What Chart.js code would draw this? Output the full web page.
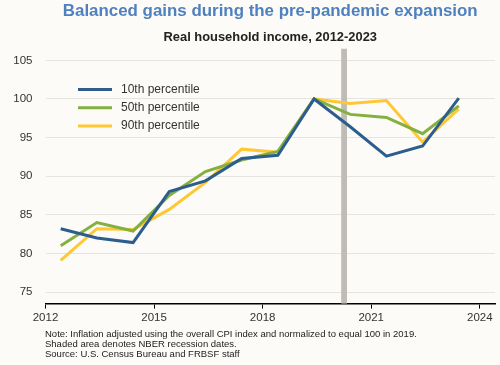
<!DOCTYPE html>
<html>
<head>
<meta charset="utf-8">
<script src="https://cdn.jsdelivr.net/npm/chart.js@4.4.1/dist/chart.umd.min.js"></script>
<style>
  html, body { margin: 0; padding: 0; background: #FCFBF8; }
  #wrap { width: 500px; height: 365px; }
</style>
</head>
<body>
<div id="wrap"><canvas id="incomeChart" width="500" height="365"></canvas></div>
<script>
// Real household income index (2019 = 100)
const years = [2012, 2013, 2014, 2015, 2016, 2017, 2018, 2019, 2020, 2021, 2022, 2023];
const p10 = [83.2, 82.0, 81.4, 88.0, 89.4, 92.3, 92.7, 100, 96.4, 92.6, 93.9, 100.1];
const p50 = [81.0, 84.0, 82.9, 87.5, 90.6, 92.1, 93.2, 100, 98.0, 97.6, 95.5, 99.1];
const p90 = [79.1, 83.2, 83.1, 85.7, 89.2, 93.5, 93.1, 100, 99.4, 99.8, 94.4, 98.7];
const seriesLabels = ['10th percentile', '50th percentile', '90th percentile'];
const xTicks = [2012, 2015, 2018, 2021, 2024];
const yTicks = [75, 80, 85, 90, 95, 100, 105];
const recession = [2020.17, 2020.33];  // NBER recession (COVID)
const notes = [
    'Note: Inflation adjusted using the overall CPI index and normalized to equal 100 in 2019.',
    'Shaded area denotes NBER recession dates.',
    'Source: U.S. Census Bureau and FRBSF staff'
];

const MIDYEAR = 0.42; // annual values plotted mid-year
const colors = ['#2C5D8C', '#84B03F', '#FFC733'];
const FONT = "'Liberation Sans', Arial, sans-serif";

function toPoints(vals) {
    return vals.map((v, i) => ({ x: years[i] + MIDYEAR, y: v }));
}

const datasets = [p10, p50, p90].map((vals, i) => ({
    label: seriesLabels[i],
    data: toPoints(vals),
    borderColor: colors[i],
    backgroundColor: colors[i],
    borderWidth: 3,
    pointRadius: 0,
    tension: 0,
    fill: false
}));

// shaded recession bar, behind the lines
const recessionPlugin = {
    id: 'recession',
    beforeDatasetsDraw(chart) {
        const { ctx, chartArea, scales } = chart;
        const x0 = scales.x.getPixelForValue(recession[0]);
        const x1 = scales.x.getPixelForValue(recession[1]);
        ctx.save();
        ctx.fillStyle = '#BFBCB7';
        ctx.fillRect(x0, chartArea.top, x1 - x0, chartArea.bottom - chartArea.top);
        ctx.restore();
    }
};

// legend inside plot + notes under the axis
const extrasPlugin = {
    id: 'extras',
    afterDraw(chart) {
        const ctx = chart.ctx;
        ctx.save();
        ctx.textBaseline = 'middle';
        chart.data.datasets.forEach((ds, i) => {
            const y = 89.5 + i * 18.3;
            ctx.strokeStyle = ds.borderColor;
            ctx.lineWidth = 3;
            ctx.beginPath();
            ctx.moveTo(78, y);
            ctx.lineTo(112, y);
            ctx.stroke();
            ctx.fillStyle = '#333';
            ctx.font = '12px ' + FONT;
            ctx.fillText(ds.label, 121, y);
        });
        ctx.font = '9.5px ' + FONT;
        ctx.fillStyle = '#222';
        notes.forEach((t, i) => {
            ctx.fillText(t, 45, 334 + i * 10.2);
        });
        ctx.restore();
    }
};

const canvas = document.getElementById('incomeChart');
if (canvas) {
    const ctx = canvas.getContext('2d');
    new Chart(ctx, {
        type: 'line',
        data: { datasets: datasets },
        options: {
            responsive: false,
            animation: false,
            layout: { padding: { left: 0, right: 5, top: 0, bottom: 0 } },
            scales: {
                x: {
                    type: 'linear',
                    min: 2012,
                    max: 2024.42,
                    afterFit: function(scale) { scale.height = 61.4; },
                    afterBuildTicks: function(scale) {
                        scale.ticks = xTicks.map(v => ({ value: v }));
                    },
                    ticks: {
                        padding: 2,
                        color: '#333',
                        font: { family: FONT, size: 11.5 },
                        maxRotation: 0,
                        callback: v => String(v)
                    },
                    grid: {
                        drawOnChartArea: false,
                        drawTicks: true,
                        tickLength: 5,
                        color: '#000'
                    },
                    border: { display: true, color: '#000', width: 1.6 }
                },
                y: {
                    min: 73.5,
                    max: 106.5,
                    afterFit: function(scale) { scale.width = 45.5; },
                    afterBuildTicks: function(scale) {
                        scale.ticks = yTicks.map(v => ({ value: v }));
                    },
                    ticks: {
                        padding: 13,
                        color: '#333',
                        font: { family: FONT, size: 11.5 }
                    },
                    grid: { drawTicks: false, color: '#E6E4E0', lineWidth: 1 },
                    border: { display: false }
                }
            },
            plugins: {
                legend: { display: false },
                tooltip: { enabled: false },
                title: {
                    display: true,
                    fullSize: false,
                    text: 'Balanced gains during the pre-pandemic expansion',
                    color: '#4F81BF',
                    font: { family: FONT, size: 16.9, weight: 'bold' },
                    padding: { top: 1, bottom: 8.8 }
                },
                subtitle: {
                    display: true,
                    fullSize: false,
                    text: 'Real household income, 2012-2023',
                    color: '#222',
                    font: { family: FONT, size: 12.9, weight: 'bold' },
                    padding: { top: 0, bottom: 3.2 }
                }
            }
        },
        plugins: [recessionPlugin, extrasPlugin]
    });
} else {
    console.error('canvas not found');
}
</script>
</body>
</html>
